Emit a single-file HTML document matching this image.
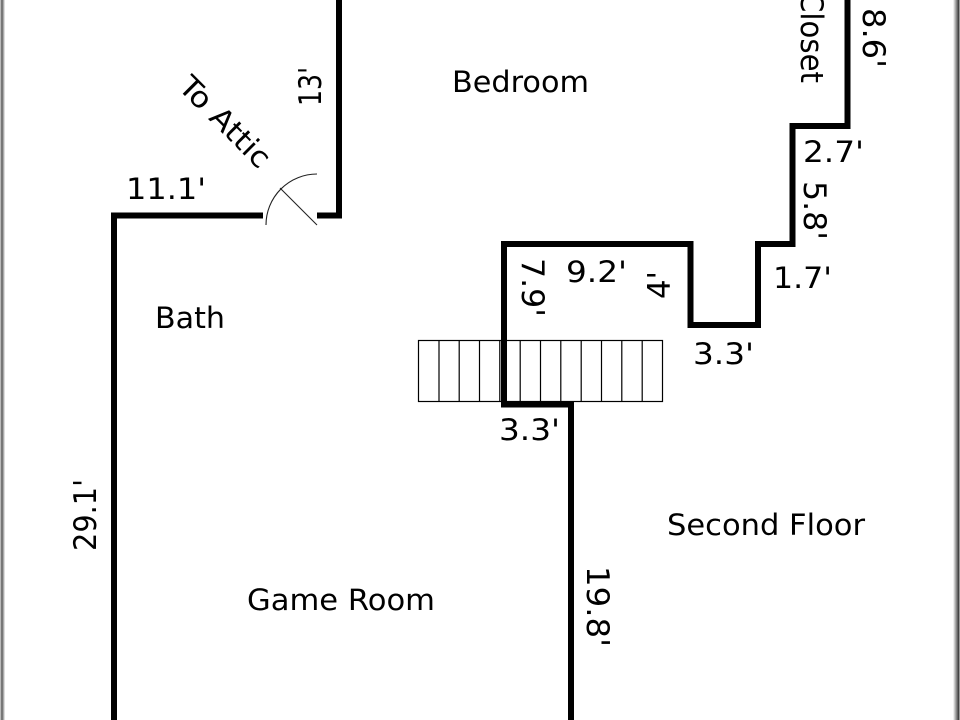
<!DOCTYPE html>
<html><head><meta charset="utf-8"><style>
html,body{margin:0;padding:0;background:#fff;width:960px;height:720px;overflow:hidden}
svg{display:block}
text{font-family:"DejaVu Sans","Liberation Sans",sans-serif;font-size:29px;fill:#000}
text.v{font-size:31.5px}
</style></head><body>
<svg width="960" height="720" viewBox="0 0 960 720" xmlns="http://www.w3.org/2000/svg">
<rect width="960" height="720" fill="#fff"/>
<rect x="0" y="0" width="1" height="720" fill="#bbb"/>
<rect x="1" y="0" width="2" height="720" fill="#777"/>
<rect x="3" y="0" width="1" height="720" fill="#aaa"/>
<rect x="4" y="0" width="1" height="720" fill="#ddd"/>
<rect x="953" y="0" width="1" height="720" fill="#eee"/>
<rect x="954" y="0" width="1" height="720" fill="#ccc"/>
<rect x="955" y="0" width="1" height="720" fill="#aaa"/>
<rect x="956" y="0" width="1" height="720" fill="#888"/>
<rect x="957" y="0" width="1" height="720" fill="#666"/>
<rect x="958" y="0" width="1" height="720" fill="#444"/>
<rect x="959" y="0" width="1" height="720" fill="#999"/>
<g fill="none" stroke="#000" stroke-width="1.2">
<rect x="418.5" y="340.5" width="244" height="61"/>
<path d="M439 340V401M459.2 340V401M479.5 340V401M499.8 340V401M520.2 340V401M540.5 340V401M560.8 340V401M581.2 340V401M601.5 340V401M621.8 340V401M642.2 340V401"/>
</g>
<g fill="none" stroke="#000" stroke-width="6" stroke-linecap="butt" stroke-linejoin="miter">
<path d="M114 720V215.5H263"/>
<path d="M317 215.5H339V0"/>
<path d="M847.5 0V126H792.5V244H758V325H690.5V244H504V404.5H571V720"/>
</g>
<g fill="none" stroke="#222" stroke-width="1.1">
<path d="M266 225A51 51 0 0 1 317 174"/>
<path d="M317 225L280 188"/>
</g>
<text x="452" y="92" textLength="137" lengthAdjust="spacingAndGlyphs">Bedroom</text>
<text x="155" y="328" textLength="70" lengthAdjust="spacingAndGlyphs">Bath</text>
<text x="247" y="610" textLength="188" lengthAdjust="spacingAndGlyphs">Game Room</text>
<text x="667" y="535" textLength="198" lengthAdjust="spacingAndGlyphs">Second Floor</text>
<text x="126" y="199" textLength="80" lengthAdjust="spacingAndGlyphs">11.1'</text>
<text x="566" y="282" textLength="61" lengthAdjust="spacingAndGlyphs">9.2'</text>
<text x="803" y="162" textLength="61" lengthAdjust="spacingAndGlyphs">2.7'</text>
<text x="773" y="288" textLength="59" lengthAdjust="spacingAndGlyphs">1.7'</text>
<text x="693" y="364" textLength="61" lengthAdjust="spacingAndGlyphs">3.3'</text>
<text x="499" y="440" textLength="61" lengthAdjust="spacingAndGlyphs">3.3'</text>
<text class="v" transform="translate(321,106) rotate(-90)" textLength="39" lengthAdjust="spacingAndGlyphs">13'</text>
<text class="v" transform="translate(96,551) rotate(-90)" textLength="72" lengthAdjust="spacingAndGlyphs">29.1'</text>
<text class="v" transform="translate(670,299) rotate(-90)" textLength="28" lengthAdjust="spacingAndGlyphs">4'</text>
<text class="v" transform="translate(522,258) rotate(90)" textLength="59" lengthAdjust="spacingAndGlyphs">7.9'</text>
<text class="v" transform="translate(804,181) rotate(90)" textLength="59" lengthAdjust="spacingAndGlyphs">5.8'</text>
<text class="v" transform="translate(863,8) rotate(90)" textLength="60" lengthAdjust="spacingAndGlyphs">8.6'</text>
<text class="v" transform="translate(587,566) rotate(90)" textLength="81" lengthAdjust="spacingAndGlyphs">19.8'</text>
<text class="v" transform="translate(801,-8) rotate(90)" textLength="91" lengthAdjust="spacingAndGlyphs">Closet</text>
<text transform="translate(177,88) rotate(45)" textLength="116" lengthAdjust="spacingAndGlyphs">To Attic</text>
</svg>
</body></html>
